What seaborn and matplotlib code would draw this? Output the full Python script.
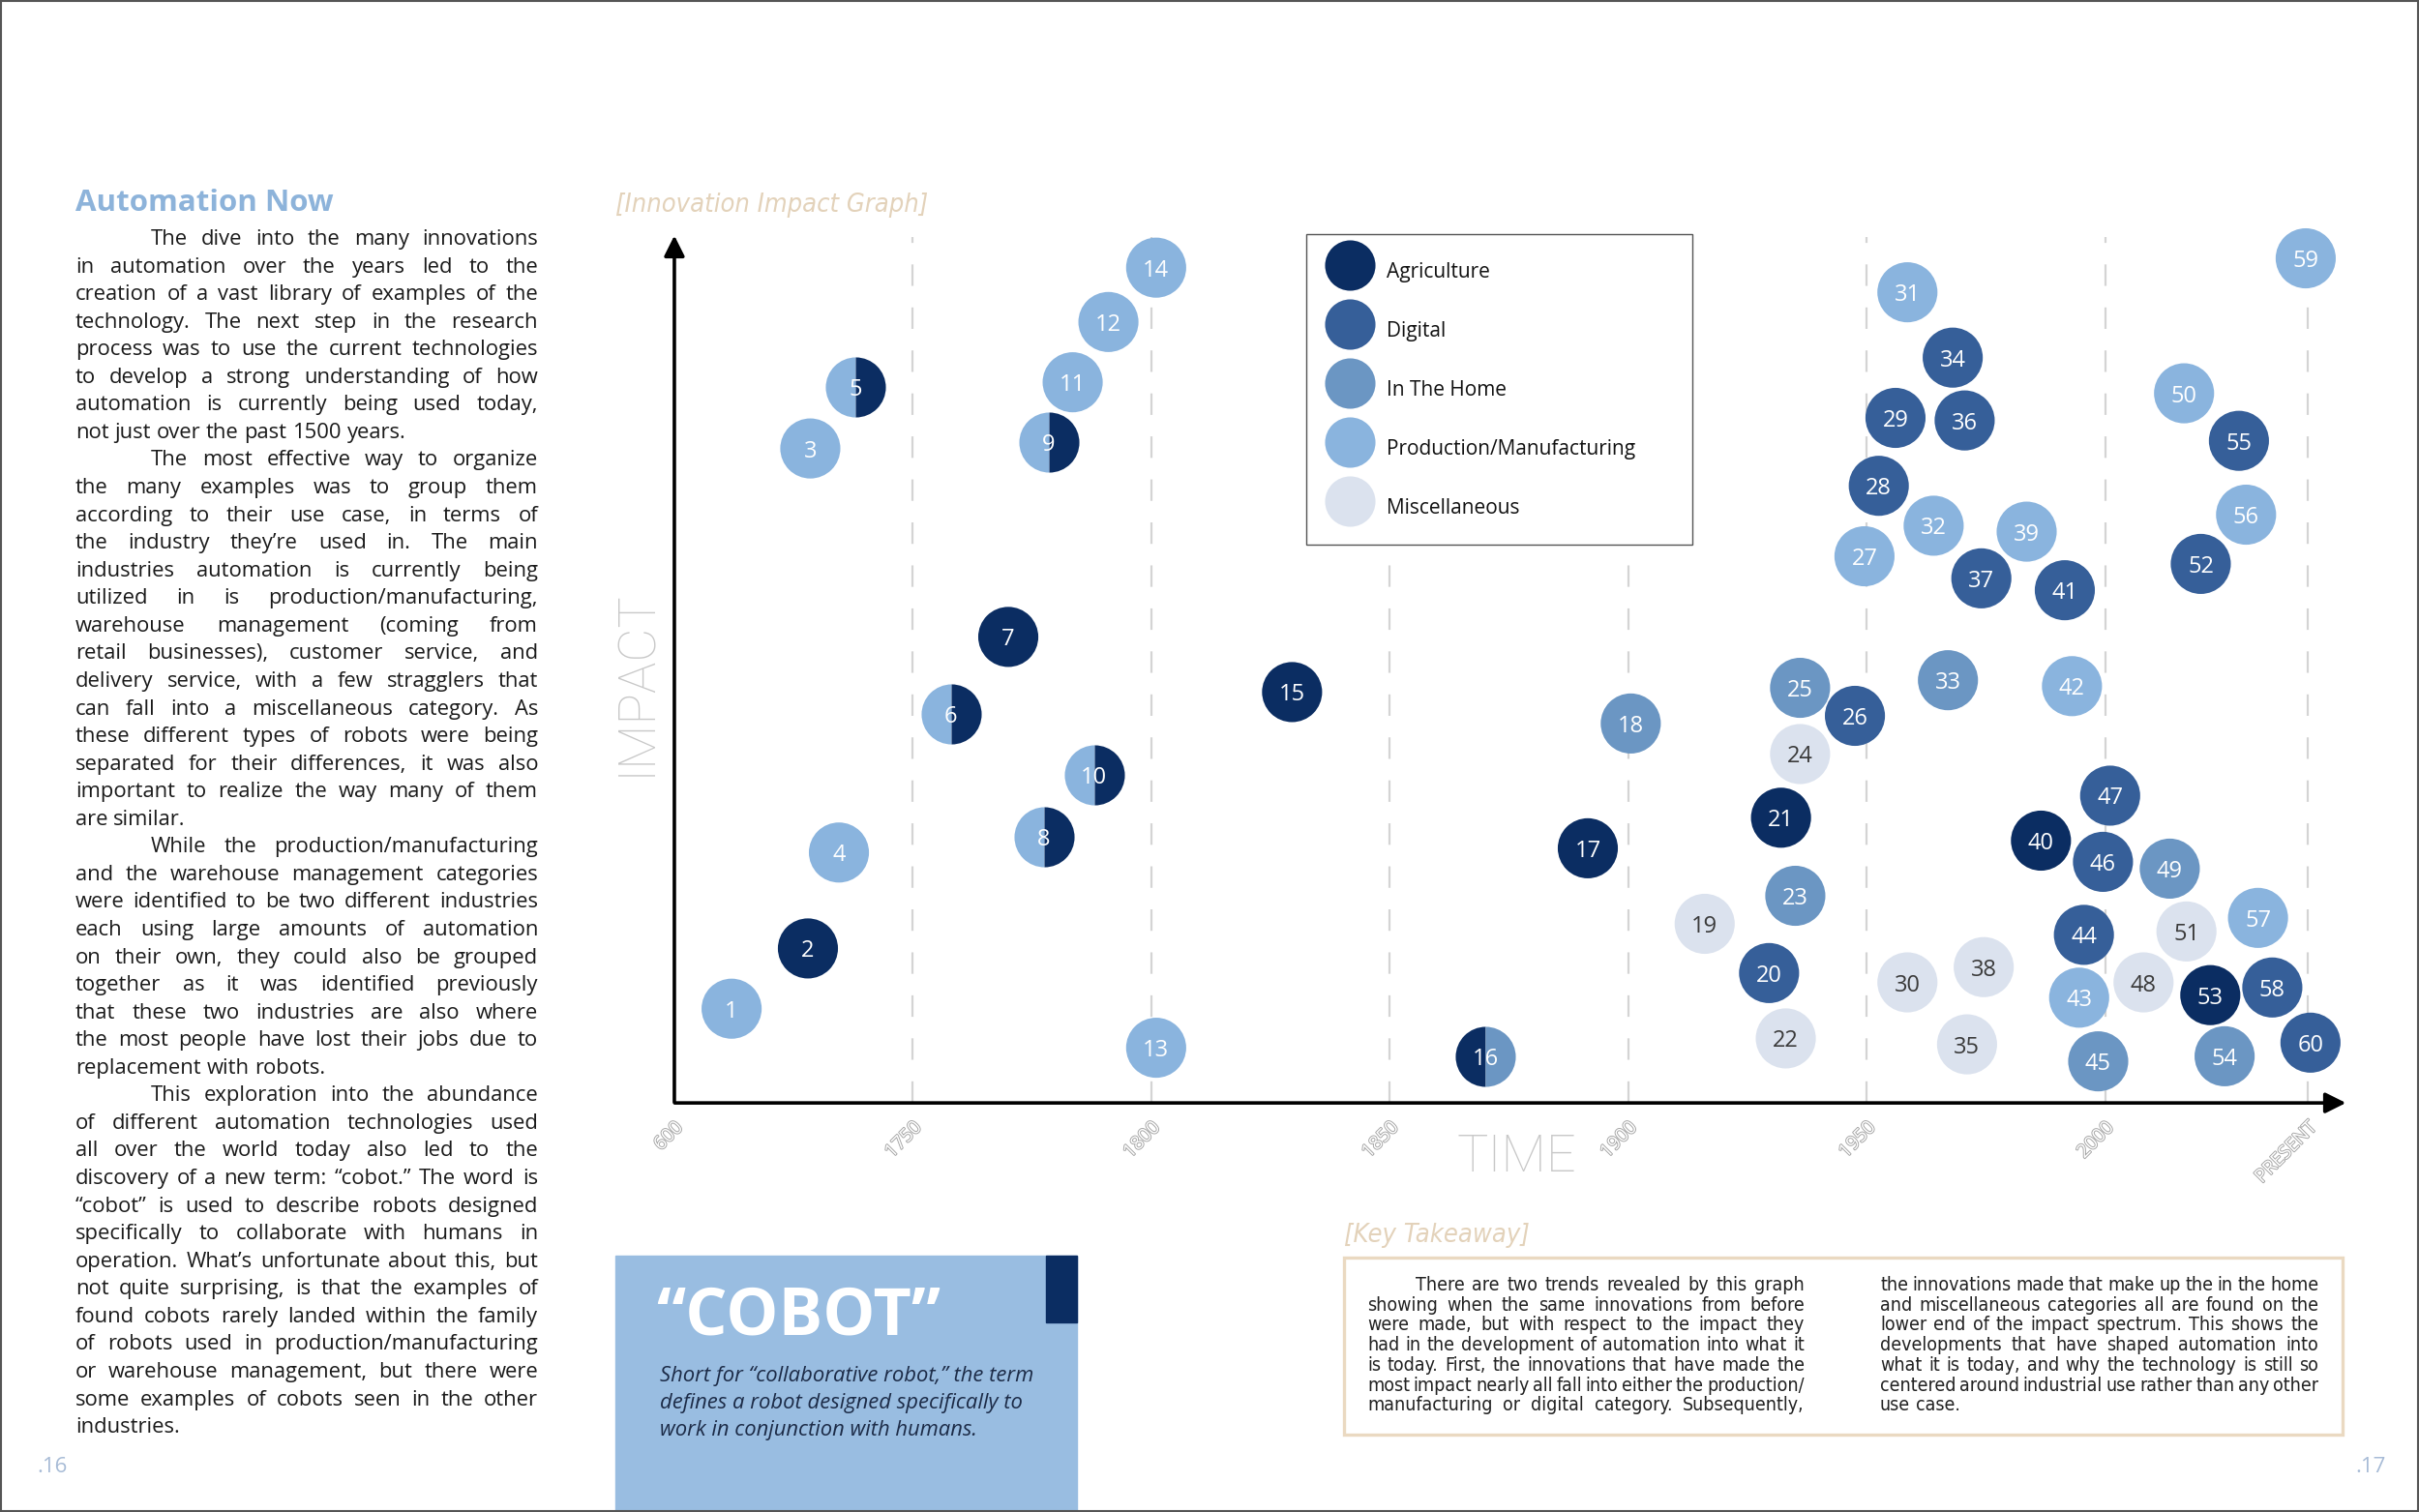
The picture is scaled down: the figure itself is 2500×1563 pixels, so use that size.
import numpy as np
import pandas as pd
import matplotlib
matplotlib.use("Agg")
import matplotlib.pyplot as plt
import matplotlib.patheffects as pe
from matplotlib import font_manager as fm
from matplotlib.lines import Line2D
from matplotlib.patches import Rectangle
import seaborn as sns

W, H = 2500, 1563

#%% data

# time axis is not linear: one unit per tick (600, 1750, 1800 ... 2000, present)
tick_pos = [0, 1, 2, 3, 4, 5, 6, 6.85]
tick_labels = ["600", "1750", "1800", "1850", "1900", "1950", "2000", "PRESENT"]

categories = ["Agriculture", "Digital", "In The Home", "Production/Manufacturing", "Miscellaneous"]
cat_colors = ["#0b2d62", "#365f99", "#6b96c3", "#8ab4de", "#dbe2ee"]
short = {"A": "Agriculture", "D": "Digital", "H": "In The Home",
         "P": "Production/Manufacturing", "M": "Miscellaneous"}

ids = [1, 2, 3, 4, 7, 11, 12, 13, 14, 15, 17, 18, 19, 20, 21, 22, 23, 24, 25, 26,
       27, 28, 29, 30, 31, 32, 33, 34, 35, 36, 37, 38, 39, 40, 41, 42, 43, 44, 45, 46,
       47, 48, 49, 50, 51, 52, 53, 54, 55, 56, 57, 58, 59, 60]
time = [0.24, 0.56, 0.57, 0.69, 1.40, 1.67, 1.82, 2.02, 2.02, 2.59, 3.83, 4.01, 4.32, 4.59,
        4.64, 4.66, 4.70, 4.72, 4.72, 4.95, 4.99, 5.05, 5.12, 5.17, 5.17, 5.28, 5.34, 5.36,
        5.42, 5.41, 5.48, 5.49, 5.67, 5.73, 5.83, 5.86, 5.89, 5.91, 5.97, 5.99, 6.02, 6.16,
        6.27, 6.33, 6.34, 6.40, 6.44, 6.50, 6.56, 6.59, 6.64, 6.70, 6.84, 6.86]
impact = [1.11, 1.82, 7.71, 2.95, 5.49, 8.49, 9.20, 0.65, 9.84, 4.84, 3.00, 4.47, 2.11, 1.53,
          3.36, 0.76, 2.44, 4.11, 4.89, 4.56, 6.44, 7.27, 8.07, 1.42, 9.55, 6.80, 4.98, 8.78,
          0.69, 8.04, 6.18, 1.60, 6.73, 3.09, 6.04, 4.91, 1.24, 1.98, 0.49, 2.84, 3.62, 1.42,
          2.76, 8.36, 2.02, 6.35, 1.27, 0.55, 7.80, 6.93, 2.18, 1.36, 9.95, 0.71]
cat = ["P", "A", "P", "P", "A", "P", "P", "P", "P", "A", "A", "H", "M", "D",
       "A", "M", "H", "M", "H", "D", "P", "D", "D", "M", "P", "P", "H", "D",
       "M", "D", "D", "M", "P", "A", "D", "P", "P", "D", "H", "D", "D", "M",
       "H", "P", "M", "D", "A", "H", "D", "P", "P", "D", "P", "D"]

# innovations that sit in two categories (drawn as half/half circles)
split_ids = [5, 6, 8, 9, 10, 16]
split_time = [0.76, 1.16, 1.55, 1.57, 1.76, 3.40]
split_impact = [8.44, 4.58, 3.13, 7.78, 3.87, 0.55]
split_left = ["P", "P", "P", "P", "P", "A"]
split_right = ["A", "A", "A", "A", "A", "H"]

df = pd.DataFrame({"id": ids, "time": time, "impact": impact,
                   "category": [short[c] for c in cat]})
palette = dict(zip(categories, cat_colors))

#%% page text

left_paras = [
    ["The dive into the many innovations",
     "in automation over the years led to the",
     "creation of a vast library of examples of the",
     "technology. The next step in the research",
     "process was to use the current technologies",
     "to develop a strong understanding of how",
     "automation is currently being used today,",
     "not just over the past 1500 years."],
    ["The most effective way to organize",
     "the many examples was to group them",
     "according to their use case, in terms of",
     "the industry they\u2019re used in. The main",
     "industries automation is currently being",
     "utilized in is production/manufacturing,",
     "warehouse management (coming from",
     "retail businesses), customer service, and",
     "delivery service, with a few stragglers that",
     "can fall into a miscellaneous category. As",
     "these different types of robots were being",
     "separated for their differences, it was also",
     "important to realize the way many of them",
     "are similar."],
    ["While the production/manufacturing",
     "and the warehouse management categories",
     "were identified to be two different industries",
     "each using large amounts of automation",
     "on their own, they could also be grouped",
     "together as it was identified previously",
     "that these two industries are also where",
     "the most people have lost their jobs due to",
     "replacement with robots."],
    ["This exploration into the abundance",
     "of different automation technologies used",
     "all over the world today also led to the",
     "discovery of a new term: \u201ccobot.\u201d The word is",
     "\u201ccobot\u201d is used to describe robots designed",
     "specifically to collaborate with humans in",
     "operation. What\u2019s unfortunate about this, but",
     "not quite surprising, is that the examples of",
     "found cobots rarely landed within the family",
     "of robots used in production/manufacturing",
     "or warehouse management, but there were",
     "some examples of cobots seen in the other",
     "industries."],
]

takeaway_col1 = [
    "There are two trends revealed by this graph",
    "showing when the same innovations from before",
    "were made, but with respect to the impact they",
    "had in the development of automation into what it",
    "is today. First, the innovations that have made the",
    "most impact nearly all fall into either the production/",
    "manufacturing or digital category. Subsequently,",
]
takeaway_col2 = [
    "the innovations made that make up the in the home",
    "and miscellaneous categories all are found on the",
    "lower end of the impact spectrum. This shows the",
    "developments that have shaped automation into",
    "what it is today, and why the technology is still so",
    "centered around industrial use rather than any other",
    "use case.",
]

cobot_lines = ["Short for \u201ccollaborative robot,\u201d the term",
               "defines a robot designed specifically to",
               "work in conjunction with humans."]

#%% figure

sns.set_theme(style="white")
plt.rcParams["font.family"] = ["Open Sans", "DejaVu Sans"]

# pick a narrow face for the condensed captions if one is around
installed = {f.name for f in fm.fontManager.ttflist}
if "Liberation Sans Narrow" in installed:
    narrow = dict(family=["Liberation Sans Narrow", "DejaVu Sans"])
elif any(f.name == "DejaVu Sans" and f.stretch == "condensed" for f in fm.fontManager.ttflist):
    narrow = dict(family=["DejaVu Sans"], fontstretch="condensed")
else:
    narrow = dict(family=["Roboto", "DejaVu Sans"])

fig = plt.figure(figsize=(25, 15.63), dpi=100)
fig.patch.set_facecolor("white")


def px(x, y):
    # page pixel (from top-left) -> figure fraction
    return x / W, 1 - y / H


ax = fig.add_axes([623 / W, 1 - 1184 / H, 1824 / W, 974 / H])
ax.set_xlim(-0.3, 7.1)
ax.set_ylim(-0.5, 10.6)
ax.patch.set_alpha(0)
for s in ax.spines.values():
    s.set_visible(False)

# dashed guides at each time tick
ax.vlines(tick_pos[1:], 0, 10.2, colors="#d4d4d4", lw=1.6,
          linestyles=(0, (10, 10)), zorder=0)

# arrows for the axes
ax.annotate("", xy=(0, 10.25), xytext=(0, -0.02),
            arrowprops=dict(arrowstyle="-|>", lw=2.6, color="black", mutation_scale=32))
ax.annotate("", xy=(7.02, 0), xytext=(-0.01, 0),
            arrowprops=dict(arrowstyle="-|>", lw=2.6, color="black", mutation_scale=32))

# single-category bubbles
sns.scatterplot(data=df, x="time", y="impact", hue="category", palette=palette,
                s=2000, linewidth=0, legend=False, ax=ax, zorder=3, clip_on=False)

# two-category bubbles
for i in range(len(split_ids)):
    ax.plot(split_time[i], split_impact[i], marker="o", ms=44.7, ls="",
            fillstyle="left", markeredgewidth=0,
            markerfacecolor=palette[short[split_left[i]]],
            markerfacecoloralt=palette[short[split_right[i]]],
            zorder=3, clip_on=False)

# numbers
for i, c, x, y in zip(ids, cat, time, impact):
    ax.text(x, y, str(i), ha="center", va="center_baseline", fontsize=17,
            color="#3a3a3a" if c == "M" else "white", zorder=4)
for i, x, y in zip(split_ids, split_time, split_impact):
    ax.text(x, y, str(i), ha="center", va="center_baseline", fontsize=17,
            color="white", zorder=4)

ax.set_xticks(tick_pos)
ax.set_xticklabels(tick_labels, rotation=45, ha="right", rotation_mode="anchor",
                   fontsize=14, color="white",
                   path_effects=[pe.withStroke(linewidth=1.3, foreground="#a2a2a2")])
ax.tick_params(axis="x", length=0, pad=-20)
ax.set_yticks([])
ax.set_xlabel("")
ax.set_ylabel("")

# legend box
handles = [Line2D([], [], marker="o", ls="", ms=37.5, markeredgewidth=0,
                  markerfacecolor=c, label=n) for n, c in zip(categories, cat_colors)]
fig.legend(handles=handles, loc="upper left", mode="expand",
           bbox_to_anchor=(1350 / W, 1 - 242 / H, 399 / W, 0), fontsize=15,
           handleheight=2.4, handlelength=2.4, handletextpad=0.62, labelspacing=1.12,
           borderpad=0.95, borderaxespad=0, fancybox=False, framealpha=1,
           edgecolor="#555555", labelcolor="#111111")

# axis titles
fig.text(*px(657, 706), "IMPACT", rotation=90, ha="center", va="center",
         fontsize=39, color="#c8c8c8", family=["Roboto", "DejaVu Sans"], weight="light")
fig.text(*px(1567, 1196), "TIME", ha="center", va="center",
         fontsize=39, color="#c8c8c8", family=["Roboto", "DejaVu Sans"], weight="light")
fig.text(*px(636, 212), "[Innovation Impact Graph]", ha="left", va="center",
         fontsize=19.5, style="italic", color="#e3d2ba", **narrow)

#%% justified text blocks

rend = fig.canvas.get_renderer()


def word_width(w, **kw):
    t = fig.text(0, 0, w, **kw)
    wd = t.get_window_extent(rend).width
    t.remove()
    return wd


def fit_size(paras, x0, x1, indent, size, min_gap=1.0, **kw):
    # largest font size (<= size) at which every line still fits the column
    space = word_width("a a", fontsize=size, **kw) - word_width("aa", fontsize=size, **kw)
    widest = 0
    for para in paras:
        for k, line in enumerate(para):
            avail = x1 - x0 - (indent if k == 0 else 0)
            words = line.split(" ")
            need = sum(word_width(w, fontsize=size, **kw) for w in words)
            need += min_gap * space * (len(words) - 1)
            widest = max(widest, need / avail)
    return size / max(widest, 1.0) * 0.99


def justify(paras, x0, x1, y0, pitch, indent, justify_last=False, **kw):
    space = word_width("a a", **kw) - word_width("aa", **kw)
    row = 0
    for para in paras:
        for k, line in enumerate(para):
            words = line.split(" ")
            left = x0 + (indent if k == 0 else 0)
            widths = [word_width(w, **kw) for w in words]
            last = (k == len(para) - 1) and not justify_last
            if last or len(words) == 1:
                gap = space
            else:
                gap = max((x1 - left - sum(widths)) / (len(words) - 1), 0.5 * space)
            xp = left
            for w, wd in zip(words, widths):
                fig.text(*px(xp, y0 + row * pitch), w, ha="left", va="baseline", **kw)
                xp += wd + gap
            row += 1


fig.text(*px(78, 210), "Automation Now", ha="left", va="center", fontsize=22.5,
         weight="bold", color="#8db3da")
body_size = fit_size(left_paras, 78, 556, 78, 16)
justify(left_paras, 78, 556, 253, 28.56, 78, fontsize=body_size, color="#1a1a1a")

# page numbers
fig.text(*px(38, 1516), ".16", ha="left", va="center", fontsize=16, color="#a7bbd6")
fig.text(*px(2466, 1516), ".17", ha="right", va="center", fontsize=16, color="#a7bbd6")

# cobot box
fig.patches.append(Rectangle((636 / W, 0), 477 / W, (H - 1298) / H,
                             transform=fig.transFigure, color="#99bde1", zorder=0))
fig.patches.append(Rectangle((1081 / W, 1 - 1367 / H), 32 / W, 69 / H,
                             transform=fig.transFigure, color="#0b2d62", zorder=1))
fig.text(*px(678, 1362), "\u201cCOBOT\u201d", ha="left", va="center", fontsize=49,
         weight="bold", color="white")
for k, line in enumerate(cobot_lines):
    fig.text(*px(682, 1428 + k * 28), line, ha="left", va="baseline",
             fontsize=15.8, style="italic", color="#1c2b47")

# key takeaway box
fig.text(*px(1389, 1277), "[Key Takeaway]", ha="left", va="center", fontsize=19.5,
         style="italic", color="#e3d2ba", **narrow)
fig.patches.append(Rectangle((1389 / W, 1 - 1483 / H), 1032 / W, 183 / H,
                             transform=fig.transFigure, fill=False,
                             edgecolor="#ead9c1", lw=2.4))
take_size = min(fit_size([takeaway_col1], 1413, 1865, 50, 15, min_gap=0.55, **narrow),
                fit_size([takeaway_col2], 1943, 2396, 0, 15, min_gap=0.55, **narrow))
justify([takeaway_col1], 1413, 1865, 1334, 20.7, 50, justify_last=True,
        fontsize=take_size, color="#222222", **narrow)
justify([takeaway_col2], 1943, 2396, 1334, 20.7, 0,
        fontsize=take_size, color="#222222", **narrow)

# page border
fig.patches.append(Rectangle((0.0005, 0.0008), 0.999, 0.9985, transform=fig.transFigure,
                             fill=False, edgecolor="#555555", lw=1.5, zorder=5))

fig.savefig("out.png", dpi=100, facecolor="white")
